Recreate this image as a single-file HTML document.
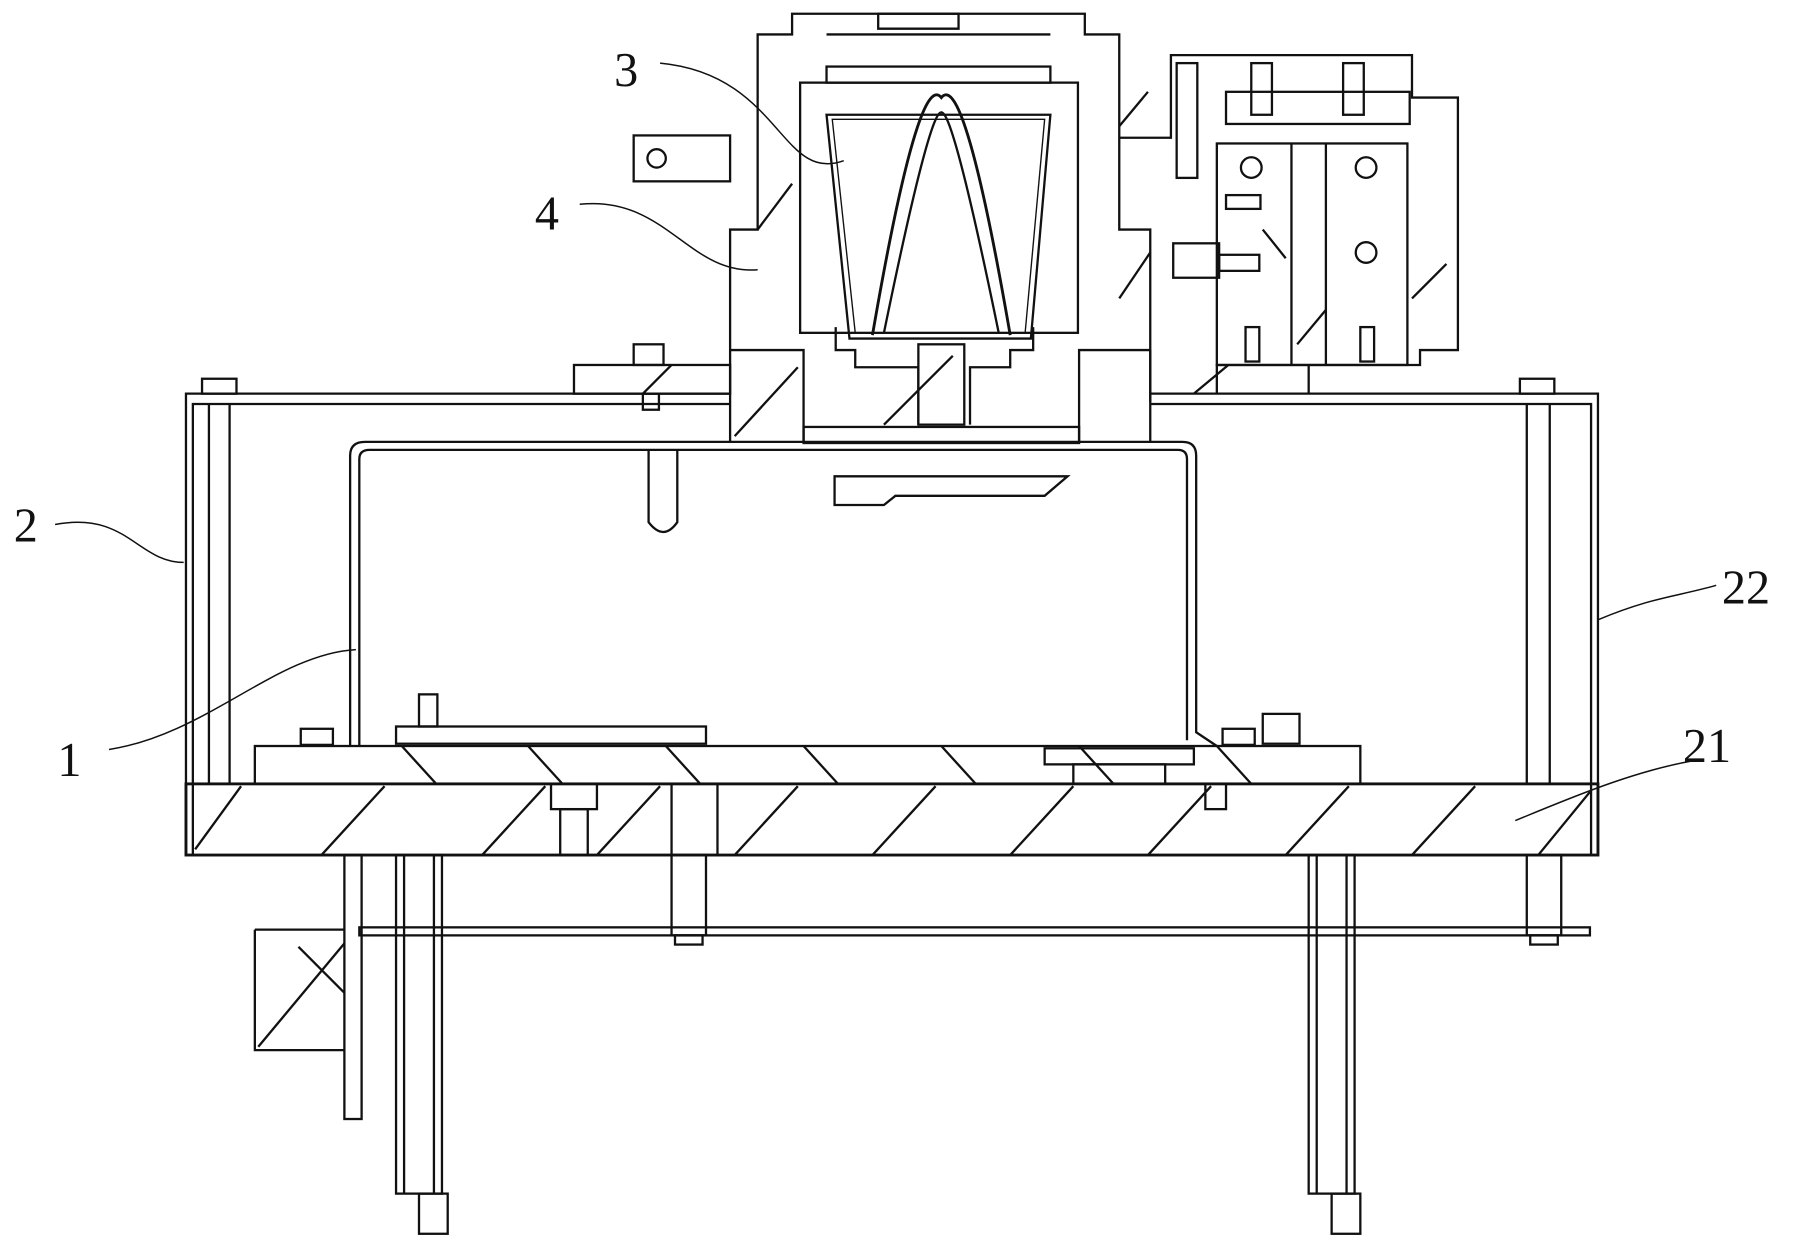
<!DOCTYPE html>
<html><head><meta charset="utf-8"><style>
html,body{margin:0;padding:0;background:#fff;width:1800px;height:1251px;overflow:hidden}
svg{display:block}
text{font-family:"Liberation Serif",serif;font-size:42px;fill:#111}
</style></head><body>
<svg width="1800" height="1251" viewBox="0 0 1568 1090" preserveAspectRatio="none" xmlns="http://www.w3.org/2000/svg">
<g fill="none" stroke="#111" stroke-width="2">
<path d="M162 745 V343 H636 M1002 343 H1392 V745"/>
<path d="M168 745 V352 H636 M1002 352 H1386 V745"/>
<line x1="182" y1="352" x2="182" y2="683"/><line x1="200" y1="352" x2="200" y2="683"/>
<line x1="1330" y1="352" x2="1330" y2="683"/><line x1="1350" y1="352" x2="1350" y2="683"/>
<rect x="176" y="330" width="30" height="13"/><rect x="1324" y="330" width="30" height="13"/>
<rect x="162" y="683" width="1230" height="62" stroke-width="2.5"/>
<path d="M170 740 l40 -55 M280 745 l55 -60 M420 745 l55 -60 M520 745 l55 -60 M640 745 l55 -60 M760 745 l55 -60 M880 745 l55 -60 M1000 745 l55 -60 M1120 745 l55 -60 M1230 745 l55 -60 M1340 745 l45 -55"/>
<rect x="222" y="650" width="963" height="33"/>
<path d="M350 650 l30 33 M460 650 l30 33 M580 650 l30 33 M700 650 l30 33 M820 650 l30 33 M940 650 l30 33 M1060 650 l30 33"/>
<rect x="910" y="652" width="130" height="14"/><rect x="935" y="666" width="80" height="17"/>
<rect x="480" y="683" width="40" height="22"/><rect x="488" y="705" width="24" height="40"/>
<rect x="585" y="683" width="40" height="62"/>
<rect x="1050" y="683" width="18" height="22"/>
<rect x="345" y="633" width="270" height="15"/><rect x="365" y="605" width="16" height="28"/>
<rect x="262" y="635" width="28" height="14"/><rect x="1065" y="635" width="28" height="14"/>
<rect x="1100" y="622" width="32" height="26"/>
<path d="M305 650 V397 Q305 385 318 385 H1030 Q1042 385 1042 397 V638 L1060 650"/>
<path d="M313 650 V400 Q313 392 322 392 H1026 Q1034 392 1034 400 V645"/>
<path d="M565 392 V455 Q578 472 590 455 V392"/>
<path d="M727 415 H930 L910 432 H780 L770 440 H727 Z"/>
<path d="M636 385 V305 H636 V200 H660 V30 H690 V12 H945 V30 H975 V200 H1002 V305 L1002 385"/>
<path d="M636 305 H700 V385 M1002 305 H940 V385"/>
<rect x="700" y="372" width="240" height="14"/>
<rect x="697" y="72" width="242" height="218"/>
<rect x="720" y="58" width="195" height="14"/>
<path d="M720 30 H915"/>
<path d="M720 100 H915 L898 295 H740 Z"/>
<path d="M725 104 H910 L893 290 H745 Z" stroke-width="1.2"/>
<path d="M760 292 Q800 60 820 85 Q840 60 880 292" stroke-width="2.5"/>
<path d="M770 290 Q810 95 820 98 Q830 95 870 290"/>
<path d="M728 285 V305 H745 V320 H800 V370 M900 285 V305 H880 V320 H845 V370"/>
<rect x="800" y="300" width="40" height="70"/>
<path d="M660 200 l30 -40 M975 110 l25 -30 M975 260 l27 -40 M640 380 l55 -60 M770 370 l60 -60"/>
<path d="M765 12 H835 V25 H765 Z"/>
<rect x="552" y="118" width="84" height="40"/><circle cx="572" cy="138" r="8"/>
<rect x="500" y="318" width="136" height="25"/><rect x="552" y="300" width="26" height="18"/><rect x="560" y="343" width="14" height="14"/>
<path d="M560 343 l25 -25"/>
<path d="M975 120 H1020 V48 H1230 V85 H1270 V305 H1237 V318 H1060 V343 M1002 305 V350 M1140 318 V343"/>
<rect x="1060" y="125" width="166" height="193"/>
<line x1="1125" y1="125" x2="1125" y2="318"/><line x1="1155" y1="125" x2="1155" y2="318"/>
<rect x="1068" y="80" width="160" height="28"/>
<rect x="1025" y="55" width="18" height="100"/><rect x="1090" y="55" width="18" height="45"/><rect x="1170" y="55" width="18" height="45"/>
<rect x="1022" y="212" width="40" height="30"/><rect x="1062" y="222" width="35" height="14"/>
<circle cx="1090" cy="146" r="9"/><circle cx="1190" cy="146" r="9"/><circle cx="1190" cy="220" r="9"/>
<rect x="1068" y="170" width="30" height="12"/><rect x="1085" y="285" width="12" height="30"/><rect x="1185" y="285" width="12" height="30"/>
<path d="M1040 343 l30 -25 M1130 300 l25 -30 M1100 200 l20 25 M1230 260 l30 -30"/>
<rect x="345" y="745" width="40" height="295"/><line x1="352" y1="745" x2="352" y2="1040"/><line x1="378" y1="745" x2="378" y2="1040"/><rect x="365" y="1040" width="25" height="35"/>
<rect x="1140" y="745" width="40" height="295"/><line x1="1147" y1="745" x2="1147" y2="1040"/><line x1="1173" y1="745" x2="1173" y2="1040"/><rect x="1160" y="1040" width="25" height="35"/>
<rect x="585" y="745" width="30" height="70"/><rect x="1330" y="745" width="30" height="70"/>
<rect x="300" y="745" width="15" height="230"/>
<rect x="313" y="808" width="1072" height="7"/>
<rect x="588" y="815" width="24" height="8"/><rect x="1333" y="815" width="24" height="8"/>
<path d="M222 810 H300 M222 810 V915 H300"/>
<path d="M225 912 l75 -90 M260 825 l40 40"/>
</g>
<g fill="none" stroke="#111" stroke-width="1.3">
<path d="M575 55 C680 65 680 160 735 140"/>
<path d="M505 178 C580 170 600 240 660 235"/>
<path d="M48 457 C110 445 120 490 160 490"/>
<path d="M95 653 C180 640 240 570 310 566"/>
<path d="M1392 540 C1440 520 1460 520 1495 510"/>
<path d="M1320 715 C1380 690 1430 670 1480 662"/>
</g>
<text x="535" y="75">3</text>
<text x="466" y="200">4</text>
<text x="12" y="472">2</text>
<text x="1500" y="526">22</text>
<text x="1466" y="664">21</text>
<text x="50" y="676">1</text>
</svg>
</body></html>
